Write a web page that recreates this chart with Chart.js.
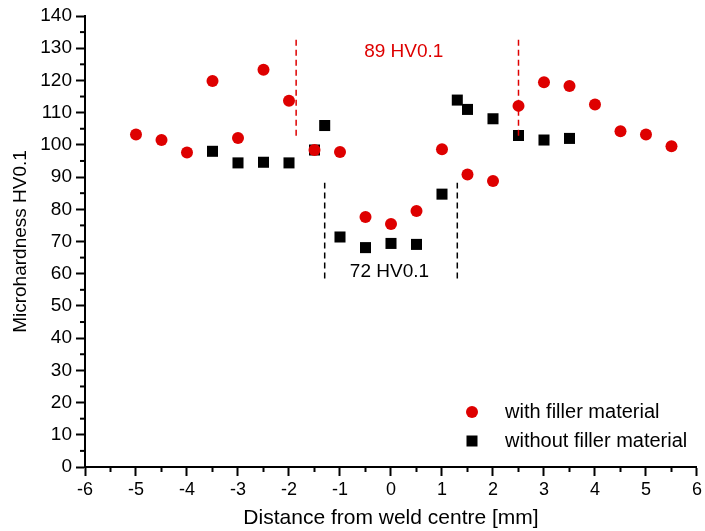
<!DOCTYPE html>
<html>
<head>
<meta charset="utf-8">
<script src="https://cdn.jsdelivr.net/npm/chart.js@4.4.1/dist/chart.umd.min.js"></script>
<style>
  html, body { margin: 0; padding: 0; background: #fff; }
  #wrap { width: 705px; height: 531px; }
</style>
</head>
<body>
<div id="wrap"><canvas id="hv-chart"></canvas></div>
<script>
// with filler material
const xFiller = [-5, -4.5, -4, -3.5, -3, -2.5, -2, -1.5, -1, -0.5, 0, 0.5, 1, 1.5, 2, 2.5, 3, 3.5, 4, 4.5, 5, 5.5];
const hvFiller = [103.2, 101.5, 97.6, 119.8, 102.1, 123.3, 113.7, 98.4, 97.8, 77.6, 75.4, 79.5, 98.6, 90.8, 88.8, 112.1, 119.4, 118.3, 112.5, 104.2, 103.2, 99.6];

// without filler material
const xNoFiller = [-3.5, -3, -2.5, -2, -1.5, -1.3, -1, -0.5, 0, 0.5, 1, 1.3, 1.5, 2, 2.5, 3, 3.5];
const hvNoFiller = [98.0, 94.4, 94.6, 94.4, 98.4, 106.0, 71.4, 68.1, 69.4, 69.1, 84.7, 113.9, 111.0, 108.1, 102.9, 101.5, 102.0];

// zone markers (dashed lines) and their labels
const fillerZoneX = [-1.86, 2.5];
const fillerZoneY = [102.8, 133.5];
const noFillerZoneX = [-1.3, 1.3];
const noFillerZoneY = [58.5, 88.2];
const zoneLabels = ['89 HV0.1', '72 HV0.1'];
const zoneLabelX = [0.25, -0.03];
const zoneLabelY = [128.8, 60.6];

const seriesNames = ['with filler material', 'without filler material'];

const red = 'rgb(222,0,0)';
const FONT = '"Liberation Sans", Arial, sans-serif';

const toPoints = (xs, ys) => xs.map((x, i) => ({ x: x, y: ys[i] }));

const zoneLines = (xs, ys, color) => xs.map(x => ({
  type: 'line',
  data: [{ x: x, y: ys[0] }, { x: x, y: ys[1] }],
  borderColor: color,
  borderWidth: 1.5,
  borderDash: [6, 4],
  pointRadius: 0,
  fill: false
}));

// minor ticks, zone text and legend
const extras = {
  id: 'extras',
  afterDraw(chart) {
    const ctx = chart.ctx;
    const xs = chart.scales.x;
    const ys = chart.scales.y;
    const area = chart.chartArea;
    ctx.save();
    ctx.strokeStyle = '#000';
    ctx.lineWidth = 2;
    for (let v = -5.5; v < 6; v += 1) {
      const px = xs.getPixelForValue(v);
      ctx.beginPath();
      ctx.moveTo(px, area.bottom);
      ctx.lineTo(px, area.bottom + 5);
      ctx.stroke();
    }
    for (let v = 5; v < 140; v += 10) {
      const py = ys.getPixelForValue(v);
      ctx.beginPath();
      ctx.moveTo(area.left, py);
      ctx.lineTo(area.left - 5, py);
      ctx.stroke();
    }

    ctx.font = '19px ' + FONT;
    ctx.textAlign = 'center';
    ctx.textBaseline = 'middle';
    ctx.fillStyle = red;
    ctx.fillText(zoneLabels[0], xs.getPixelForValue(zoneLabelX[0]), ys.getPixelForValue(zoneLabelY[0]));
    ctx.fillStyle = '#000';
    ctx.fillText(zoneLabels[1], xs.getPixelForValue(zoneLabelX[1]), ys.getPixelForValue(zoneLabelY[1]));

    // legend
    const lx = area.left + 387;
    const ly = area.bottom - 55;
    ctx.fillStyle = red;
    ctx.beginPath();
    ctx.arc(lx, ly, 6, 0, Math.PI * 2);
    ctx.fill();
    ctx.fillStyle = '#000';
    ctx.fillRect(lx - 5.5, ly + 29 - 5.5, 11, 11);
    ctx.font = '20px ' + FONT;
    ctx.textAlign = 'left';
    ctx.fillText(seriesNames[0], lx + 33, ly);
    ctx.fillText(seriesNames[1], lx + 33, ly + 29);
    ctx.restore();
  }
};

const graph = document.getElementById('hv-chart');

const chart = new Chart(graph, {
  type: 'scatter',
  data: {
    datasets: [
      ...zoneLines(fillerZoneX, fillerZoneY, red),
      ...zoneLines(noFillerZoneX, noFillerZoneY, '#000'),
      {
        label: seriesNames[0],
        data: toPoints(xFiller, hvFiller),
        pointStyle: 'circle',
        pointRadius: 6,
        backgroundColor: red,
        borderWidth: 0
      },
      {
        label: seriesNames[1],
        data: toPoints(xNoFiller, hvNoFiller),
        pointStyle: 'rect',
        pointRadius: 7.8,
        backgroundColor: '#000',
        borderWidth: 0
      }
    ]
  },
  options: {
    responsive: true,
    maintainAspectRatio: false,
    animation: false,
    layout: {
      autoPadding: false,
      padding: { left: 0, top: 16, right: 6, bottom: 0 }
    },
    plugins: {
      legend: { display: false },
      tooltip: { enabled: false }
    },
    scales: {
      x: {
        type: 'linear',
        min: -6,
        max: 6,
        afterFit: (s) => { s.height = 64; },
        ticks: {
          stepSize: 1,
          color: '#000',
          padding: 3,
          font: { family: FONT, size: 18 }
        },
        grid: {
          drawOnChartArea: false,
          tickLength: 9,
          tickWidth: 2,
          tickColor: '#000'
        },
        border: { color: '#000', width: 2 },
        title: {
          display: true,
          text: 'Distance from weld centre [mm]',
          color: '#000',
          padding: { top: 0, bottom: 0 },
          font: { family: FONT, size: 21 }
        }
      },
      y: {
        min: 0,
        max: 140,
        afterFit: (s) => { s.width = 85; },
        ticks: {
          stepSize: 10,
          color: '#000',
          padding: 4,
          font: { family: FONT, size: 19 }
        },
        grid: {
          drawOnChartArea: false,
          tickLength: 9,
          tickWidth: 2,
          tickColor: '#000'
        },
        border: { color: '#000', width: 2 },
        title: {
          display: true,
          text: 'Microhardness HV0.1',
          color: '#000',
          padding: { top: 9, bottom: 0 },
          font: { family: FONT, size: 19 }
        }
      }
    }
  },
  plugins: [extras]
});
</script>
</body>
</html>
